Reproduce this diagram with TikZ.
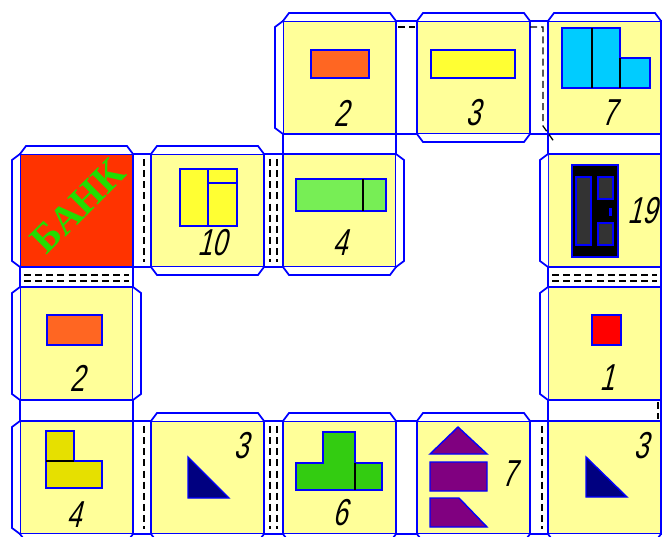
\documentclass[tikz,border=0pt]{standalone}
\usepackage{fontspec}
\newfontfamily\numfont[FakeSlant=0.25,FakeStretch=0.7]{Liberation Sans}
\newfontfamily\bankfont{Liberation Serif}
\definecolor{tilebg}{RGB}{255,255,153}
\definecolor{bankred}{RGB}{255,51,0}
\definecolor{bankgreen}{RGB}{34,221,0}
\definecolor{edgeblue}{RGB}{0,0,255}
\definecolor{brick}{RGB}{255,102,34}
\definecolor{lemon}{RGB}{255,255,51}
\definecolor{skyblue}{RGB}{0,204,255}
\definecolor{lightgreen}{RGB}{119,238,85}
\definecolor{grassgreen}{RGB}{51,204,17}
\definecolor{mustard}{RGB}{230,224,0}
\definecolor{navyblue}{RGB}{0,0,128}
\definecolor{plum}{RGB}{128,0,128}
\definecolor{darkgrey}{RGB}{51,51,51}
\begin{document}
\begin{tikzpicture}[x=0.03cm, y=-0.03cm,
    tile/.style={draw=edgeblue, line width=1.7pt, fill=tilebg, minimum size=3.39cm, inner sep=0pt, outer sep=0pt},
    strip/.style={draw=edgeblue, line width=1.7pt, fill=white},
    flap/.style={draw=edgeblue, line width=1.5pt, fill=white},
    fold/.style={black, line width=1.1pt, dash pattern=on 6pt off 3.5pt},
    piece/.style={draw=edgeblue, line width=1.2pt},
    num/.style={font=\numfont\fontsize{32}{32}\selectfont, inner sep=0pt}]
  \useasboundingbox (0,0) rectangle (664,537);
  \clip (0,0) rectangle (664,537);
  \foreach \p/\x/\y in {t20/339.5/77.5, t30/473.5/77.5, t40/604.5/77.5,
      t11/207.5/210.5, t21/339.5/210.5, t41/604.5/210.5,
      t02/76.5/343.5, t42/604.5/343.5,
      t03/76.5/477.5, t13/207.5/477.5, t23/339.5/477.5, t33/473.5/477.5, t43/604.5/477.5}{
    \node[tile] (\p) at (\x,\y) {};
  }
  \node[tile, fill=bankred] (t01) at (76.5,210.5) {};
  \foreach \a/\b in {t20/t30, t30/t40, t01/t11, t11/t21, t03/t13, t13/t23, t23/t33, t33/t43}
    \draw[strip] (\a.north east) rectangle (\b.south west);
  \foreach \a/\b in {t20/t21, t40/t41, t01/t02, t41/t42, t02/t03, t42/t43}
    \draw[strip] (\a.south west) rectangle (\b.north east);
  \foreach \p in {t20, t30, t40, t01, t11, t13, t23, t33}
    \draw[flap] (\p.north west) -- ([shift={(6,-8)}]\p.north west) -- ([shift={(-6,-8)}]\p.north east) -- (\p.north east);
  \foreach \p in {t30, t11, t21, t03, t13, t23, t33, t43}
    \draw[flap] (\p.south west) -- ([shift={(6,8)}]\p.south west) -- ([shift={(-6,8)}]\p.south east) -- (\p.south east);
  \foreach \p in {t20, t01, t02, t03, t41, t42}
    \draw[flap] (\p.north west) -- ([shift={(-8,6)}]\p.north west) -- ([shift={(-8,-6)}]\p.south west) -- (\p.south west);
  \foreach \p in {t21, t02}
    \draw[flap] (\p.north east) -- ([shift={(8,6)}]\p.north east) -- ([shift={(8,-6)}]\p.south east) -- (\p.south east);
  \draw[fold] ([shift={(11,5)}]t01.north east) -- ([shift={(11,-5)}]t01.south east);
  \draw[fold] ([shift={(11,5)}]t03.north east) -- ([shift={(11,-5)}]t03.south east);
  \draw[fold] ([shift={(12,5)}]t33.north east) -- ([shift={(12,-5)}]t33.south east);
  \foreach \s in {6,13}{
    \draw[fold] ([shift={(\s,5)}]t11.north east) -- ([shift={(\s,-5)}]t11.south east);
    \draw[fold] ([shift={(\s,5)}]t13.north east) -- ([shift={(\s,-5)}]t13.south east);
  }
  \foreach \s in {8,14}{
    \draw[fold] ([shift={(4,\s)}]t01.south west) -- ([shift={(-4,\s)}]t01.south east);
    \draw[fold] ([shift={(4,\s)}]t41.south west) -- ([shift={(-4,\s)}]t41.south east);
  }
  \draw[fold] ([shift={(2,6)}]t20.north east) -- ([shift={(-2,6)}]t30.north west);
  \draw[fold] ([shift={(0,6)}]t30.north east) -- ([shift={(-5,6)}]t40.north west)
    -- ([shift={(-5,-8)}]t40.south west) -- ([shift={(7,9)}]t40.south west);
  \draw[fold] ([shift={(-3,2)}]t42.south east) -- ([shift={(-3,-2)}]t43.north east);
  \draw[piece, fill=brick] (311,50) rectangle (369,78);
  \draw[piece, fill=lemon] (431,50) rectangle (515,78);
  \draw[piece, fill=skyblue] (562,28) -- (620,28) -- (620,58) -- (650,58) -- (650,88) -- (562,88) -- cycle;
  \draw[black, line width=1pt] (592,28) -- (592,88) (620,58) -- (620,88);
  \node[rotate=45, text=bankgreen, font=\bankfont\bfseries\fontsize{34}{34}\selectfont, inner sep=0pt] (bank) at (78,206) {БАНК};
  \draw[piece, fill=lemon] (180,169) rectangle (237,226);
  \draw[piece] (208,169) -- (208,226) (208,183) -- (237,183);
  \draw[piece, fill=lightgreen] (296,179) rectangle (386,211);
  \draw[black, line width=1pt] (363,179) -- (363,211);
  \draw[piece, fill=black] (572,165) rectangle (618,257);
  \draw[piece, fill=darkgrey] (576,177) rectangle (591,245) (598,177) rectangle (613,199) (598,223) rectangle (613,245);
  \fill[edgeblue] (609,208) rectangle (612,216);
  \draw[piece, fill=brick] (47,315) rectangle (102,345);
  \draw[piece, fill=red] (592,315) rectangle (621,345);
  \draw[piece, fill=mustard] (46,431) -- (74,431) -- (74,461) -- (102,461) -- (102,488) -- (46,488) -- cycle;
  \draw[black, line width=1pt] (46,461) -- (74,461);
  \draw[piece, fill=navyblue] (188,457) -- (188,498) -- (229,498) -- cycle;
  \draw[piece, fill=grassgreen] (323,432) -- (355,432) -- (355,463) -- (382,463) -- (382,490) -- (296,490) -- (296,463) -- (323,463) -- cycle;
  \draw[black, line width=1pt] (355,463) -- (355,490);
  \draw[piece, fill=plum] (430,454) -- (458,427) -- (487,454) -- cycle (430,462) rectangle (487,491)
    (430,498) -- (459,498) -- (487,527) -- (430,527) -- cycle;
  \draw[piece, fill=navyblue] (586,457) -- (586,497) -- (627,497) -- cycle;
  \node[num] (n20) at (341,113) {2};
  \node[num] (n30) at (473,113) {3};
  \node[num] (n40) at (609,113) {7};
  \node[num] (n11) at (212,243) {10};
  \node[num] (n21) at (340,243) {4};
  \node[num] (n41) at (642,211) {19};
  \node[num] (n02) at (77,378) {2};
  \node[num] (n42) at (607,378) {1};
  \node[num] (n03) at (74,515) {4};
  \node[num] (n13) at (241,446) {3};
  \node[num] (n23) at (340,513) {6};
  \node[num] (n33) at (509,474) {7};
  \node[num] (n43) at (641,446) {3};
\end{tikzpicture}
\end{document}
